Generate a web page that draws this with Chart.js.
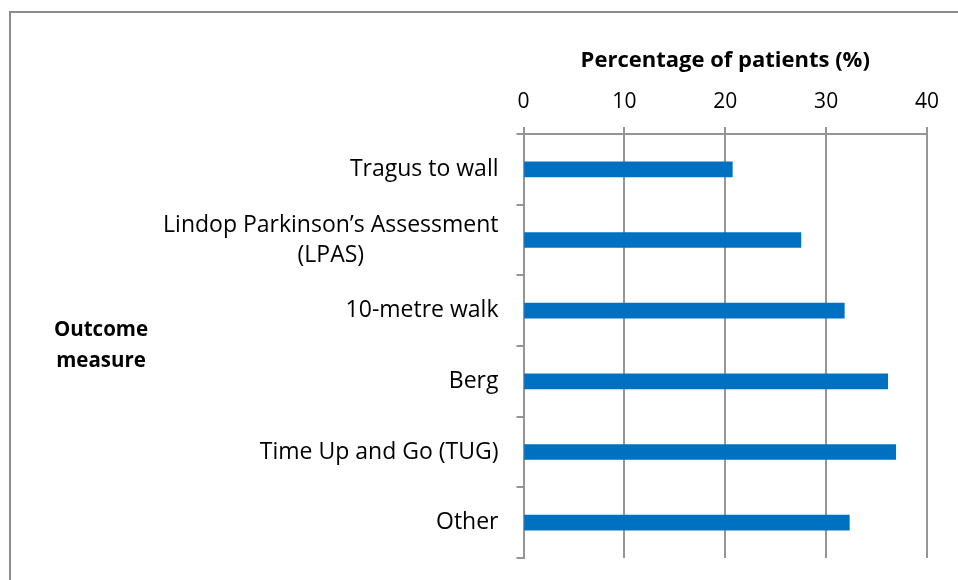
<!DOCTYPE html>
<html>
<head>
<meta charset="utf-8">
<script src="https://cdn.jsdelivr.net/npm/chart.js@4/dist/chart.umd.min.js"></script>
<style>
  html, body { margin: 0; padding: 0; background: #fff; overflow: hidden; }
  #wrap { position: relative; width: 958px; height: 580px; }
  #frame { position: absolute; left: 9px; top: 11px; width: 1000px; height: 1000px; border-left: 2px solid #8c8c8c; border-top: 2px solid #8c8c8c; }
  canvas { position: absolute; left: 0; top: 0; }
</style>
</head>
<body>
<div id="wrap">
  <div id="frame"></div>
  <canvas id="chart" width="958" height="580"></canvas>
</div>
<script>
// Данные диаграммы
const categories = [
  ['Tragus to wall'],
  ['Lindop Parkinson’s Assessment', '(LPAS)'],
  ['10-metre walk'],
  ['Berg'],
  ['Time Up and Go (TUG)'],
  ['Other']
];
const percentages = [20.7, 27.5, 31.8, 36.1, 36.9, 32.3];
const xTicks = [0, 10, 20, 30, 40];
const xTitle = 'Percentage of patients (%)';
const yTitle = ['Outcome', 'measure'];

const FONT = '"Open Sans", sans-serif';
const GRID = '#959595';

// Подписи категорий: многострочные центрируются по самой широкой строке (как в Excel)
const labelPlugin = {
  id: 'labelPlugin',
  afterDraw(chart) {
    const ctx = chart.ctx;
    const y = chart.scales.y;
    const rightX = y.right - 25;
    ctx.save();
    ctx.fillStyle = '#000';
    ctx.font = '23px ' + FONT;
    ctx.textBaseline = 'middle';
    ctx.textAlign = 'center';
    const lh = 30;
    categories.forEach((lines, i) => {
      const py = y.getPixelForValue(i);
      const w = Math.max(...lines.map(l => ctx.measureText(l).width));
      const cx = rightX - w / 2;
      lines.forEach((l, j) => {
        ctx.fillText(l, cx, py + (j - (lines.length - 1) / 2) * lh);
      });
    });
    // Заголовок оси Y — горизонтально слева
    ctx.font = 'bold 20.5px ' + FONT;
    const midY = (chart.chartArea.top + chart.chartArea.bottom) / 2;
    yTitle.forEach((l, j) => {
      ctx.fillText(l, 101, midY + (j - (yTitle.length - 1) / 2) * 31);
    });
    ctx.restore();
  }
};

new Chart(document.getElementById('chart'), {
  type: 'bar',
  data: {
    labels: categories,
    datasets: [{
      data: percentages,
      backgroundColor: '#0070C0',
      borderWidth: 0,
      barThickness: 15
    }]
  },
  options: {
    indexAxis: 'y',
    responsive: false,
    animation: false,
    layout: { padding: { left: 0, right: 31, top: 0, bottom: 22 } },
    plugins: { legend: { display: false }, tooltip: { enabled: false } },
    scales: {
      x: {
        position: 'top',
        min: 0,
        max: 40,
        afterBuildTicks: s => { s.ticks = xTicks.map(v => ({ value: v })); },
        afterFit: s => { s.height = 134; },
        ticks: { color: '#000', font: { family: FONT, size: 21 }, padding: 12 },
        grid: { color: GRID, lineWidth: 2, tickLength: 7, drawTicks: true },
        border: { color: GRID, width: 2 },
        title: {
          display: true,
          text: xTitle,
          color: '#000',
          font: { family: FONT, size: 22, weight: 'bold' },
          padding: { top: 48, bottom: 4 }
        }
      },
      y: {
        afterFit: s => { s.width = 523.5; },
        ticks: { color: 'rgba(0,0,0,0)', font: { family: FONT, size: 20 } },
        grid: { drawOnChartArea: false, color: GRID, lineWidth: 2, tickLength: 7, offset: true },
        border: { color: GRID, width: 2 }
      }
    }
  },
  plugins: [labelPlugin]
});
</script>
</body>
</html>
